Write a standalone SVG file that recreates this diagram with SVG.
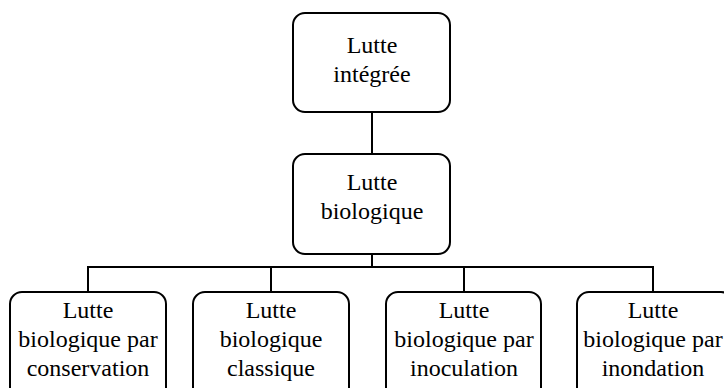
<svg xmlns="http://www.w3.org/2000/svg" width="724" height="388" viewBox="0 0 724 388">
<style>
.box{fill:#fff;stroke:#000;stroke-width:2}
.ln{fill:none;stroke:#000;stroke-width:2}
</style>
<rect width="724" height="388" fill="#fff"/>
<g id="connectors">
<line class="ln" x1="372" y1="112" x2="372" y2="154"/>
<line class="ln" x1="372" y1="254" x2="372" y2="267"/>
<polyline class="ln" points="88,292 88,267 653,267 653,292"/>
<line class="ln" x1="271" y1="267" x2="271" y2="292"/>
<line class="ln" x1="464" y1="267" x2="464" y2="292"/>
</g>
<g font-family="Times New Roman, Liberation Serif, Noto Serif, DejaVu Serif, serif" font-size="24" text-anchor="middle" fill="#000">
<g id="n1">
<rect class="box" x="293" y="13" width="157" height="99" rx="12"/>
<text x="372" y="53">Lutte</text>
<text x="372" y="82">intégrée</text>
</g>
<g id="n2">
<rect class="box" x="293" y="154" width="157" height="100" rx="12"/>
<text x="372" y="190">Lutte</text>
<text x="372" y="219">biologique</text>
</g>
<g id="n3">
<rect class="box" x="10" y="292" width="156" height="110" rx="12"/>
<text x="88" y="318">Lutte</text>
<text x="88" y="347">biologique par</text>
<text x="88" y="376">conservation</text>
</g>
<g id="n4">
<rect class="box" x="193" y="292" width="156" height="110" rx="12"/>
<text x="271" y="318">Lutte</text>
<text x="271" y="347">biologique</text>
<text x="271" y="376">classique</text>
</g>
<g id="n5">
<rect class="box" x="386" y="292" width="155" height="110" rx="12"/>
<text x="464" y="318">Lutte</text>
<text x="464" y="347">biologique par</text>
<text x="464" y="376">inoculation</text>
</g>
<g id="n6">
<rect class="box" x="577" y="292" width="156" height="110" rx="12"/>
<text x="653" y="318">Lutte</text>
<text x="653" y="347">biologique par</text>
<text x="653" y="376">inondation</text>
</g>
</g>
</svg>
